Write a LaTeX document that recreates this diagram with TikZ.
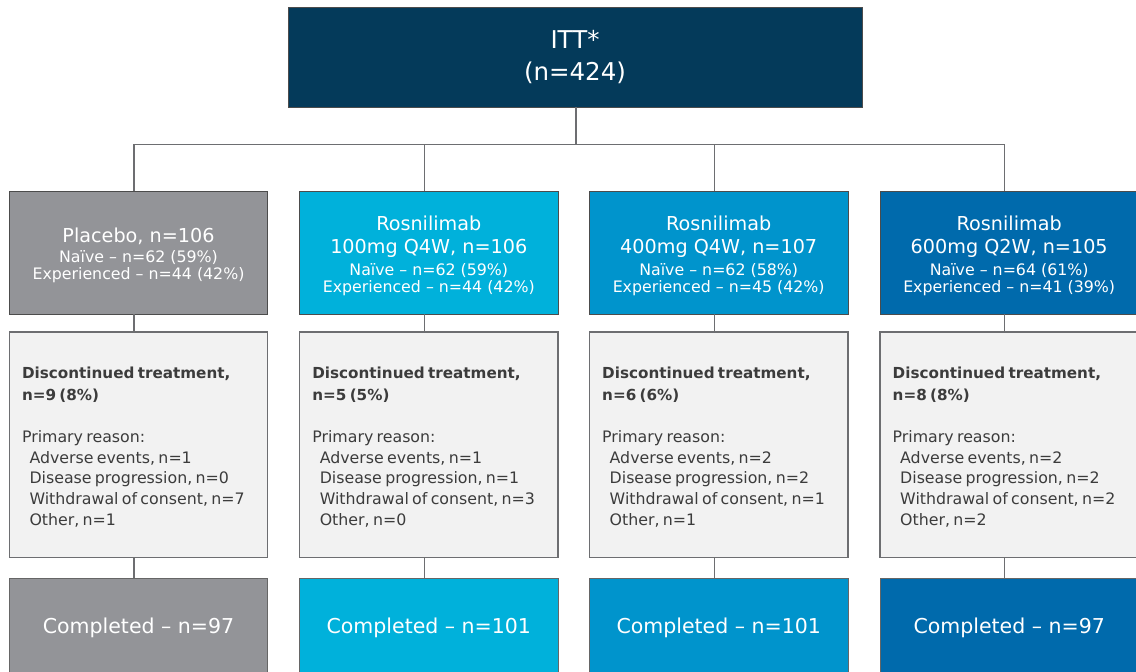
\documentclass[tikz,border=0pt]{standalone}
\usepackage{fontspec}
\setmainfont{DejaVu Sans}
\definecolor{ittc}{HTML}{043A5A}
\definecolor{plc}{HTML}{939498}
\definecolor{rsa}{HTML}{00B1DB}
\definecolor{rsb}{HTML}{0094CC}
\definecolor{rsc}{HTML}{006AAC}
\definecolor{discfill}{HTML}{F2F2F2}
\definecolor{edge}{HTML}{6D6E71}
\definecolor{txt}{HTML}{3C3C3C}
\newcommand{\ttl}{\fontsize{19.2}{17}\selectfont}
\newcommand{\subt}{\fontsize{15.8}{17}\selectfont}
\newcommand{\dreg}{\fontsize{15.8}{20.9}\selectfont}
\newcommand{\dbold}{\fontsize{15.2}{21.8}\selectfont\bfseries}
\newcommand{\ind}{\hspace*{7.5pt}}
\newcommand{\pushdown}[1]{\rule{0pt}{#1}}
\tikzset{
  armbox/.style={draw=black!70, line width=0.8pt, minimum width=258.4pt, minimum height=122.3pt, text=white, align=center, inner sep=0pt, font=\fontsize{15.8}{17}\selectfont},
  discbox/.style={draw=edge, line width=1.2pt, fill=discfill, minimum width=258.4pt, minimum height=225.7pt, text width=233pt, inner xsep=12.7pt, inner ysep=0pt, align=left, text=txt},
  compbox/.style={draw=black!60, line width=0.8pt, minimum width=258.4pt, minimum height=100pt, text=white, inner sep=0pt, font=\fontsize{20.5}{23}\selectfont},
  conn/.style={draw=edge, line width=1.2pt}
}
\begin{document}
\begin{tikzpicture}[x=1pt,y=-1pt]
\useasboundingbox (0,0) rectangle (1136,672);
\clip (0,0) rectangle (1136,672);

\node[draw=black!70, line width=0.8pt, fill=ittc, text=white, minimum width=574pt, minimum height=99.7pt, align=center, inner sep=0pt, font=\fontsize{24.5}{32}\selectfont] (itt) at (575,57.2) {ITT*\\(n=424)};

\node[armbox, fill=plc] (top1) at (138.5,252.9) {\ttl\pushdown{19.8pt}Placebo, n=106\\[3pt]\subt Naïve – n=62 (59\%)\\\subt Experienced – n=44 (42\%)};
\node[armbox, fill=rsa] (top2) at (428.8,252.9) {\ttl\pushdown{20.8pt}Rosnilimab\\[6pt]\ttl 100mg Q4W, n=106\\[5pt]\subt Naïve – n=62 (59\%)\\\subt Experienced – n=44 (42\%)};
\node[armbox, fill=rsb] (top3) at (718.7,252.9) {\ttl\pushdown{20.8pt}Rosnilimab\\[6pt]\ttl 400mg Q4W, n=107\\[5pt]\subt Naïve – n=62 (58\%)\\\subt Experienced – n=45 (42\%)};
\node[armbox, fill=rsc] (top4) at (1009.2,252.9) {\ttl\pushdown{20.8pt}Rosnilimab\\[6pt]\ttl 600mg Q2W, n=105\\[5pt]\subt Naïve – n=64 (61\%)\\\subt Experienced – n=41 (39\%)};

\node[discbox] (disc1) at (138.5,444.9) {{\dbold\pushdown{16.5pt}Discontinued treatment,\\n=9 (8\%)\par}\vspace{20.8pt}{\dreg Primary reason:\\\ind Adverse events, n=1\\\ind Disease progression, n=0\\\ind Withdrawal of consent, n=7\\\ind Other, n=1\par}};
\node[discbox] (disc2) at (428.8,444.9) {{\dbold\pushdown{16.5pt}Discontinued treatment,\\n=5 (5\%)\par}\vspace{20.8pt}{\dreg Primary reason:\\\ind Adverse events, n=1\\\ind Disease progression, n=1\\\ind Withdrawal of consent, n=3\\\ind Other, n=0\par}};
\node[discbox] (disc3) at (718.7,444.9) {{\dbold\pushdown{16.5pt}Discontinued treatment,\\n=6 (6\%)\par}\vspace{20.8pt}{\dreg Primary reason:\\\ind Adverse events, n=2\\\ind Disease progression, n=2\\\ind Withdrawal of consent, n=1\\\ind Other, n=1\par}};
\node[discbox] (disc4) at (1009.2,444.9) {{\dbold\pushdown{16.5pt}Discontinued treatment,\\n=8 (8\%)\par}\vspace{20.8pt}{\dreg Primary reason:\\\ind Adverse events, n=2\\\ind Disease progression, n=2\\\ind Withdrawal of consent, n=2\\\ind Other, n=2\par}};

\node[compbox, fill=plc] (comp1) at (138.5,628.3) {Completed – n=97};
\node[compbox, fill=rsa] (comp2) at (428.8,628.3) {Completed – n=101};
\node[compbox, fill=rsb] (comp3) at (718.7,628.3) {Completed – n=101};
\node[compbox, fill=rsc] (comp4) at (1009.2,628.3) {Completed – n=97};

\coordinate (bus) at (576,144.3);
\draw[conn] ([xshift=1pt]itt.south) -- ([xshift=1pt]itt.south |- bus);
\draw[conn] ([xshift=-4.5pt]top1.north |- bus) -- ([xshift=-4.5pt]top4.north |- bus);
\foreach \i in {1,2,3,4}{
  \draw[conn] ([xshift=-4.5pt]top\i.north |- bus) -- ([xshift=-4.5pt]top\i.north);
  \draw[conn] ([xshift=-4.5pt]top\i.south) -- ([xshift=-4.5pt]disc\i.north);
  \draw[conn] ([xshift=-4.5pt]disc\i.south) -- ([xshift=-4.5pt]comp\i.north);
}
\end{tikzpicture}
\end{document}
